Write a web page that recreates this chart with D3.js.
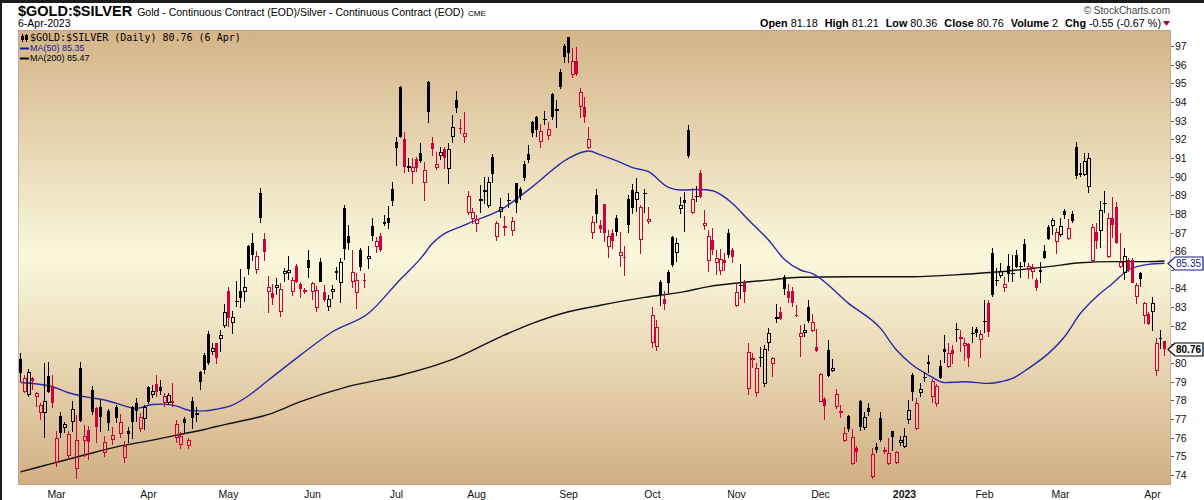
<!DOCTYPE html>
<html><head><meta charset="utf-8">
<script src="https://cdn.jsdelivr.net/npm/d3@7"></script>
<style>body{margin:0;background:#fff}svg{display:block}</style>
</head><body>
<svg id="c" width="1204" height="500"></svg>
<script>
// ---------- DATA ----------
const START_DATE = '2022-02-15', END_DATE = '2023-04-06';
const HOLIDAYS = ['2022-02-21','2022-04-15','2022-05-30','2022-06-20','2022-07-04','2022-09-05',
  '2022-11-24','2022-12-26','2023-01-02','2023-01-16','2023-02-20'];

const opens = [80.20,78.46,78.28,79.18,78.19,77.35,77.35,79.30,78.77,74.62,77.16,76.50,75.01,76.82,74.30,79.71,75.80,76.41,78.55,77.57,
77.62,75.16,77.43,75.87,77.62,76.18,74.89,76.35,77.62,77.87,76.46,76.98,78.70,78.28,78.87,78.70,77.84,77.84,77.96,75.96,
75.60,77.00,75.57,77.96,77.19,79.50,80.43,81.56,80.57,81.06,81.27,82.00,83.86,82.13,83.30,83.86,83.83,86.27,86.42,84.99,
89.10,86.63,83.83,83.74,84.04,82.76,84.76,84.81,83.83,85.22,84.22,83.80,85.52,83.83,82.93,85.40,83.79,83.02,83.83,84.94,
84.27,88.30,86.81,84.36,83.77,86.06,84.45,85.56,87.35,86.24,86.81,87.58,87.76,89.33,91.83,94.78,92.00,90.44,90.26,90.92,
91.24,89.67,95.05,91.78,90.48,91.12,91.48,90.39,92.14,94.10,92.60,92.10,88.06,87.71,87.44,88.71,89.19,88.44,91.03,86.74,
88.08,87.22,88.71,87.10,89.64,89.33,90.67,91.21,92.91,93.17,91.87,93.03,92.19,94.41,93.53,95.59,97.00,97.46,95.45,96.20,
93.71,93.71,91.51,86.96,89.01,87.40,88.53,86.24,86.96,87.76,85.76,85.67,88.80,89.28,88.74,86.60,89.06,87.58,81.06,80.88,
84.33,83.44,84.86,86.74,85.88,88.24,88.74,92.50,88.03,88.92,90.17,87.37,85.49,86.60,85.38,84.95,85.53,86.96,86.06,83.08,
84.11,84.31,78.60,80.16,78.40,80.25,78.90,81.06,79.93,82.34,82.72,84.63,83.88,83.86,82.56,81.38,81.59,82.99,81.74,80.84,
77.93,78.07,80.70,79.59,77.66,77.30,75.84,77.16,74.59,75.46,77.97,76.50,77.57,73.91,75.48,77.07,75.21,74.59,76.36,74.62,
75.70,75.48,76.95,79.36,76.45,78.38,79.20,80.04,78.20,77.81,79.84,80.75,79.77,80.70,81.77,81.27,80.91,81.00,81.58,81.83,
81.24,82.20,83.24,85.88,84.40,84.68,84.01,85.20,84.77,85.79,85.18,86.37,84.99,84.90,84.45,84.99,86.01,87.28,87.35,86.47,
86.87,88.15,86.63,87.97,91.60,90.17,90.08,89.46,85.49,87.01,87.08,88.56,85.67,87.76,88.35,85.17,84.81,85.53,85.53,83.52,
84.81,82.54,82.63,82.76,79.59,81.34,81.18];
const highs = [80.52,79.36,79.66,79.27,78.46,77.84,79.98,80.04,79.36,76.35,77.37,76.85,76.35,77.96,77.21,80.04,76.68,76.64,78.77,77.66,
78.02,76.09,77.52,76.59,77.75,77.25,75.84,76.59,77.71,78.11,77.30,77.75,78.77,78.82,79.36,79.09,78.37,78.37,78.95,76.94,
76.28,77.09,76.01,78.19,77.66,79.59,80.52,81.72,81.06,81.09,81.77,83.17,84.10,82.79,84.40,85.04,84.60,86.33,86.99,86.03,
89.37,86.99,84.67,84.24,84.54,84.27,85.08,85.74,84.63,85.29,84.33,84.04,86.06,84.36,84.13,85.65,84.19,83.65,84.19,85.17,
85.61,88.47,87.40,86.06,84.85,86.15,84.85,86.27,87.76,86.78,86.96,87.94,88.42,89.69,92.10,94.86,92.37,91.01,91.01,91.07,
91.78,90.80,95.12,92.10,91.30,91.60,91.60,91.82,93.30,94.59,93.07,93.44,89.22,88.30,87.94,89.55,89.96,89.96,91.21,87.62,
88.83,87.89,89.10,87.81,89.67,89.46,90.83,91.69,93.00,93.25,92.80,93.51,92.94,94.50,94.10,95.75,97.11,97.50,96.87,96.93,
94.73,94.25,92.64,87.90,89.31,87.67,88.55,87.13,87.17,87.94,87.01,86.29,89.01,89.60,89.90,88.47,89.31,88.35,82.99,82.31,
84.45,83.88,84.99,86.81,86.72,88.89,89.19,92.76,89.37,89.49,90.35,88.21,87.13,87.22,86.06,86.10,85.88,87.17,86.15,84.31,
85.31,84.45,81.06,80.52,80.00,80.84,80.97,81.86,80.34,83.17,83.02,84.72,84.24,84.10,83.11,82.04,82.08,83.38,82.63,81.81,
79.48,78.16,81.24,80.20,78.59,77.75,76.59,77.21,76.45,75.57,78.02,77.39,77.84,75.43,75.73,77.36,75.52,75.96,76.38,75.30,
76.11,76.50,78.02,79.48,78.11,78.91,79.54,80.43,79.13,78.86,80.16,81.50,81.06,80.97,82.13,81.77,81.33,81.06,81.92,81.92,
81.77,83.38,83.38,86.19,85.08,85.35,84.63,85.83,85.79,86.06,85.44,86.65,85.35,85.29,84.54,85.44,86.33,87.40,87.76,87.22,
87.76,88.24,87.71,88.15,91.83,90.74,91.25,91.28,87.46,87.49,88.71,89.24,88.03,88.88,88.65,86.96,86.15,85.61,85.61,84.27,
84.90,83.29,82.76,83.52,81.32,81.77,81.21];
const lows = [79.00,78.37,78.19,78.55,77.66,76.94,76.01,78.37,77.57,74.41,75.96,76.26,74.80,76.28,73.76,76.85,74.98,74.83,77.21,75.73,
76.32,74.98,76.35,75.60,76.80,75.96,74.66,75.73,75.91,76.85,76.28,76.41,77.80,78.11,78.19,78.28,77.66,77.75,77.66,75.73,
75.42,76.26,75.42,76.46,76.85,78.55,79.41,79.89,80.43,79.95,80.61,81.90,81.95,81.54,82.99,82.97,83.29,84.72,85.49,84.76,
87.53,85.49,82.70,83.11,83.65,82.45,84.36,84.45,83.61,84.27,83.47,83.70,84.58,83.38,82.76,84.33,83.29,82.81,83.42,84.45,
83.20,85.52,86.06,84.01,82.88,84.95,84.01,85.06,86.56,85.92,85.97,87.37,87.19,88.44,90.58,92.05,90.21,90.26,89.58,90.26,
90.71,88.71,92.89,91.10,90.35,90.89,90.41,89.58,91.82,93.39,92.26,91.78,87.94,87.44,87.04,88.06,88.51,88.33,89.64,86.54,
87.76,86.81,88.30,86.83,88.06,88.74,89.76,90.74,92.14,92.10,91.51,92.76,91.96,93.03,92.62,94.68,96.11,96.07,95.30,95.41,
93.12,92.85,91.48,86.63,87.49,86.96,86.51,85.65,86.10,86.81,85.17,84.69,86.96,87.97,88.12,85.83,88.03,87.46,80.82,80.66,
83.08,82.85,83.70,85.17,85.44,87.97,87.01,90.98,87.99,88.65,88.83,87.13,84.90,85.79,84.72,84.72,84.95,85.62,85.38,82.99,
83.44,83.20,78.30,79.72,78.20,79.81,78.70,80.66,79.27,82.17,82.31,83.65,83.20,83.02,82.45,80.34,81.38,82.17,81.68,80.61,
77.89,76.95,79.24,79.54,77.54,77.04,75.75,76.32,74.53,74.71,76.38,76.41,77.18,73.78,75.16,75.79,75.11,74.53,75.30,74.57,
75.55,75.43,76.73,77.98,76.41,78.20,79.00,79.45,77.88,77.66,79.13,80.02,79.72,79.95,81.15,80.61,80.13,79.77,81.06,81.41,
80.25,81.59,81.41,83.56,84.15,84.54,83.83,84.33,84.33,85.08,84.58,85.17,84.49,84.49,83.88,84.27,85.56,86.60,86.87,85.83,
86.78,87.71,86.60,87.49,89.87,89.96,90.03,89.14,85.44,86.10,86.19,88.03,85.61,86.69,86.37,85.08,84.45,84.90,84.27,83.15,
84.10,82.09,82.04,81.74,79.31,80.78,80.36];
const closes = [79.45,79.18,79.54,79.05,78.37,77.75,77.96,78.46,77.87,76.01,76.23,76.73,76.19,77.52,75.87,76.91,76.09,75.78,77.39,76.59,
77.12,75.75,76.80,76.14,77.03,76.82,75.57,76.18,76.85,77.44,77.09,77.62,77.93,78.52,78.46,78.52,78.25,78.28,77.87,76.73,
76.10,76.77,75.87,77.03,77.30,79.00,79.63,79.98,80.79,80.25,81.50,82.72,82.40,82.49,83.32,83.47,84.06,85.04,85.79,85.72,
87.76,85.97,84.06,83.51,84.19,83.97,84.94,84.99,84.45,84.33,83.97,83.94,85.11,84.27,83.92,84.36,83.38,83.42,83.95,84.81,
85.40,86.10,86.45,84.86,84.45,85.17,84.40,85.74,86.83,86.54,86.06,87.44,87.53,88.71,91.51,92.10,90.53,90.57,90.49,90.44,
90.85,90.35,93.48,91.48,90.66,91.30,90.98,91.48,92.67,93.69,92.55,92.32,88.96,88.12,87.71,88.78,89.28,89.69,90.14,87.53,
88.39,87.35,88.74,87.62,88.60,88.96,89.94,90.89,92.35,92.50,92.45,93.07,92.53,93.21,93.60,94.82,96.43,96.64,96.21,95.50,
94.52,93.17,92.00,87.55,87.99,87.19,86.96,86.81,86.56,87.01,85.94,85.62,87.40,88.30,89.15,88.35,89.10,87.72,82.58,81.91,
83.65,83.17,84.27,85.26,86.42,88.47,88.56,91.12,88.78,88.96,88.92,87.49,86.81,86.06,85.62,85.56,85.35,85.79,85.70,83.79,
84.19,83.83,80.58,80.29,79.72,80.31,80.74,81.59,80.29,82.45,82.36,83.95,83.47,83.24,82.52,81.59,81.77,82.27,82.18,80.66,
79.41,77.72,79.31,79.72,78.34,77.43,76.23,76.46,76.02,75.25,76.59,77.13,77.39,75.11,75.34,75.87,75.34,75.16,76.05,75.21,
75.87,76.09,77.48,78.47,77.84,78.59,79.24,79.93,79.04,78.79,79.22,80.58,80.52,80.47,81.81,81.38,81.06,80.25,81.61,81.63,
81.54,82.24,81.65,83.65,84.43,84.93,84.22,84.76,84.81,85.17,85.20,85.44,85.20,85.17,84.04,84.86,85.65,86.65,87.67,87.04,
87.37,87.94,87.22,87.63,90.03,90.08,90.85,90.98,87.31,86.56,88.21,88.60,87.76,87.40,86.46,85.44,85.74,84.99,84.31,84.18,
84.49,83.20,82.09,83.20,81.09,81.31,80.76];

// moving averages (bar index, value)
const ma50Idx = [0,8,12,17,21,24,29,33,36,39,43,46,49,53,57,62,70,78,87,95,100,103,112,120,128,137,142,145,150,153,157,162,165,170,173,178,182,187,191,195,198,207,215,219,223,227,231,236,242,245,248,252,257,261,265,269,273,277,282,286];
const ma50Val = [78.96,78.73,78.41,78.16,78.02,77.84,77.57,77.78,77.80,77.69,77.44,77.44,77.53,77.75,78.25,79.09,80.43,81.68,82.67,84.50,85.60,86.42,87.49,88.21,89.46,90.98,91.37,91.16,90.76,90.48,90.26,89.42,89.28,89.31,89.24,88.56,87.67,86.60,85.55,84.99,84.80,83.20,81.86,80.70,79.90,79.36,78.95,79.00,78.91,79.00,79.18,79.72,80.52,81.41,82.67,83.56,84.27,84.99,85.29,85.35];
const ma200Idx = [0,8,16,24,33,39,46,49,53,62,70,82,95,108,120,128,137,145,156,166,172,180,187,195,207,223,236,244,257,265,273,282,286];
const ma200Val = [74.17,74.62,75.07,75.51,75.87,76.14,76.44,76.60,76.79,77.25,77.93,78.75,79.35,80.20,81.41,82.13,82.75,83.10,83.52,83.83,84.10,84.31,84.45,84.60,84.63,84.63,84.76,84.88,85.17,85.38,85.44,85.44,85.47];

const yTickLabels = [74,75,76,77,78,79,80,81,82,83,84,85,86,87,88,89,90,91,92,93,94,95,96,97];
const monthTickLabels = ['Mar','Apr','May','Jun','Jul','Aug','Sep','Oct','Nov','Dec','2023','Feb','Mar','Apr'];
const headerValues = [['Open','81.18'],['High','81.21'],['Low','80.36'],['Close','80.76'],['Volume','2'],['Chg','-0.55 (-0.67 %)']];

// ---------- BUILD ----------
function tradingDays(start, end, hol) {
  const out = [], h = new Set(hol);
  const e = new Date(end + 'T00:00:00Z');
  for (let d = new Date(start + 'T00:00:00Z'); d <= e; d.setUTCDate(d.getUTCDate() + 1)) {
    const w = d.getUTCDay(), s = d.toISOString().slice(0, 10);
    if (w > 0 && w < 6 && !h.has(s)) out.push(s);
  }
  return out;
}
const dates = tradingDays(START_DATE, END_DATE, HOLIDAYS);
const bars = dates.map((d, i) => ({d, i, o: opens[i], h: highs[i], l: lows[i], c: closes[i]}));

const PL = 18, PT = 30, PR = 1171, PB = 485;
const svg = d3.select('#c');
const x = d3.scaleBand().domain(dates).range([PL, PL + 4 * dates.length]);
const y = d3.scaleLinear().domain([74, 97]).range([475, 46]);
const cx = d => Math.round(x(d) + x.bandwidth() / 2);
const FONT = 'Liberation Sans, Arial, sans-serif';

svg.append('rect').attr('width', 1204).attr('height', 500).attr('fill', '#fff');
svg.append('rect').attr('x', 0).attr('y', 0).attr('width', 1204).attr('height', 3).attr('fill', '#1c1c1c');
svg.append('rect').attr('x', 0).attr('y', 0).attr('width', 2).attr('height', 500).attr('fill', '#1c1c1c');

const defs = svg.append('defs');
const g = defs.append('linearGradient').attr('id', 'bg').attr('x1', 0).attr('y1', 0).attr('x2', 0).attr('y2', 1);
g.append('stop').attr('offset', '0%').attr('stop-color', '#d4b488');
g.append('stop').attr('offset', '50%').attr('stop-color', '#fbf8dc');
g.append('stop').attr('offset', '100%').attr('stop-color', '#d2af83');
defs.append('clipPath').attr('id', 'clip').append('rect').attr('x', PL).attr('y', PT).attr('width', PR - PL).attr('height', PB - PT);

svg.append('rect').attr('x', PL).attr('y', PT).attr('width', PR - PL).attr('height', PB - PT).attr('fill', 'url(#bg)');
const plot = svg.append('g').attr('clip-path', 'url(#clip)');

// MA lines
const lineGen = d3.line().x(p => cx(dates[p[0]]) + 0.5).y(p => y(p[1])).curve(d3.curveMonotoneX);
plot.append('path').datum(ma200Idx.map((k, j) => [k, ma200Val[j]]))
  .attr('d', lineGen).attr('fill', 'none').attr('stroke', '#111').attr('stroke-width', 1.4);
plot.append('path').datum(ma50Idx.map((k, j) => [k, ma50Val[j]]))
  .attr('d', lineGen).attr('fill', 'none').attr('stroke', '#2a2aa8').attr('stroke-width', 1.4);

// candles
const RED = '#d2003a', BLK = '#000';
const cg = plot.append('g');
bars.forEach(b => {
  const col = (b.i === 0 || b.c >= closes[b.i - 1]) ? BLK : RED;
  const hollow = b.c > b.o;
  const c = cx(b.d);
  const top = Math.round(y(Math.max(b.o, b.c))), bot = Math.round(y(Math.min(b.o, b.c)));
  const yh = Math.round(y(b.h)), yl = Math.round(y(b.l));
  if (hollow && bot - top >= 2) {
    cg.append('line').attr('x1', c + 0.5).attr('x2', c + 0.5).attr('y1', yh).attr('y2', top).attr('stroke', col);
    cg.append('line').attr('x1', c + 0.5).attr('x2', c + 0.5).attr('y1', bot).attr('y2', yl).attr('stroke', col);
    cg.append('rect').attr('x', c - 0.5).attr('y', top + 0.5).attr('width', 3).attr('height', bot - top - 1)
      .attr('fill', 'none').attr('stroke', col).attr('stroke-width', 1);
  } else {
    cg.append('line').attr('x1', c + 0.5).attr('x2', c + 0.5).attr('y1', yh).attr('y2', yl).attr('stroke', col);
    cg.append('rect').attr('x', c - 1).attr('y', top).attr('width', 3 + (hollow ? 1 : 0)).attr('height', Math.max(1, bot - top))
      .attr('fill', col);
  }
});

// border (dotted)
svg.append('rect').attr('x', PL + 0.5).attr('y', PT + 0.5).attr('width', PR - PL - 1).attr('height', PB - PT - 1)
  .attr('fill', 'none').attr('stroke', '#a88f8f').attr('stroke-dasharray', '1,1');

// price boxes (values) -- tick labels hidden behind them are skipped
const boxes = [
  {v: ma50Val[ma50Val.length - 1], color: '#1a1a8c', bold: false},
  {v: closes[closes.length - 1], color: '#000', bold: true}
];

// y axis
const ya = svg.append('g').attr('font-family', FONT).attr('font-size', 10.5).attr('fill', '#111');
yTickLabels.forEach(v => {
  const yy = Math.round(y(v)) + 0.5;
  ya.append('line').attr('x1', PR).attr('x2', PR + 3).attr('y1', yy).attr('y2', yy).attr('stroke', '#555');
  const hidden = boxes.some(b => Math.abs(y(b.v) - y(v)) < 10);
  if (!hidden) ya.append('text').attr('x', PR + 4).attr('y', yy).attr('dy', '0.35em').text(v);
});

// x axis month labels at first trading day of each month
const firsts = [];
dates.forEach((d, i) => { if (i > 0 && d.slice(0, 7) !== dates[i - 1].slice(0, 7)) firsts.push(d); });
const xa = svg.append('g').attr('font-family', FONT).attr('font-size', 10.5).attr('fill', '#111').attr('text-anchor', 'middle');
firsts.forEach((d, k) => {
  xa.append('text').attr('x', cx(d) + 0.5).attr('y', 498).text(monthTickLabels[k])
    .attr('font-weight', monthTickLabels[k] === '2023' ? 'bold' : null);
});

boxes.forEach(b => {
  const yy = Math.round(y(b.v)) + 0.5;
  svg.append('path').attr('d', `M${PR - 3},${yy} L${PR + 4},${yy - 6.5} L1203,${yy - 6.5} L1203,${yy + 6.5} L${PR + 4},${yy + 6.5} Z`)
    .attr('fill', '#fff').attr('stroke', b.color).attr('stroke-width', 1.2);
  svg.append('text').attr('x', PR + 5).attr('y', yy).attr('dy', '0.36em').attr('fill', b.color)
    .attr('font-family', FONT).attr('font-size', 10).attr('font-weight', b.bold ? 'bold' : null).text(b.v.toFixed(2));
});

// header
const hd = svg.append('g').attr('font-family', FONT).attr('fill', '#000');
const t1 = hd.append('text').attr('x', 18).attr('y', 16);
t1.append('tspan').attr('font-size', 14.5).attr('font-weight', 'bold').text('$GOLD:$SILVER');
t1.append('tspan').attr('font-size', 10.5).attr('dx', 5).text('Gold - Continuous Contract (EOD)/Silver - Continuous Contract (EOD)');
t1.append('tspan').attr('font-size', 8).attr('dx', 4).text('CME');
hd.append('text').attr('x', 18).attr('y', 27).attr('font-size', 10.5).text('6-Apr-2023');
hd.append('text').attr('x', 1170).attr('y', 14).attr('font-size', 10).attr('fill', '#444').attr('text-anchor', 'end').text('© StockCharts.com');
const t2 = hd.append('text').attr('x', 1161).attr('y', 27).attr('font-size', 10.8).attr('text-anchor', 'end');
headerValues.forEach((p, k) => {
  t2.append('tspan').attr('font-weight', 'bold').attr('dx', k ? 7 : 0).text(p[0]);
  t2.append('tspan').attr('dx', 3).text(p[1]);
});
hd.append('path').attr('d', 'M1163,21 L1170,21 L1166.5,26 Z').attr('fill', '#b00030');

// legend inside plot
const last = bars[bars.length - 1];
const lg = svg.append('g');
lg.append('line').attr('x1', 22.5).attr('x2', 22.5).attr('y1', 34).attr('y2', 42).attr('stroke', '#000');
lg.append('rect').attr('x', 21).attr('y', 36).attr('width', 3).attr('height', 4).attr('fill', '#000');
lg.append('line').attr('x1', 26.5).attr('x2', 26.5).attr('y1', 34).attr('y2', 42).attr('stroke', '#000');
lg.append('rect').attr('x', 25.5).attr('y', 35.5).attr('width', 2).attr('height', 4).attr('fill', 'none').attr('stroke', '#000');
lg.append('text').attr('x', 30).attr('y', 41).attr('font-family', 'DejaVu Sans Mono, monospace').attr('font-size', 10)
  .text(`$GOLD:$SILVER (Daily) ${last.c.toFixed(2)} (6 Apr)`);
lg.append('line').attr('x1', 20).attr('x2', 29).attr('y1', 48.5).attr('y2', 48.5).attr('stroke', '#1a1a8c').attr('stroke-width', 2);
lg.append('text').attr('x', 30).attr('y', 51).attr('font-family', FONT).attr('font-size', 9).attr('fill', '#1a1a8c')
  .text(`MA(50) ${ma50Val[ma50Val.length - 1].toFixed(2)}`);
lg.append('line').attr('x1', 20).attr('x2', 29).attr('y1', 58.5).attr('y2', 58.5).attr('stroke', '#000').attr('stroke-width', 2);
lg.append('text').attr('x', 30).attr('y', 61).attr('font-family', FONT).attr('font-size', 9).attr('fill', '#000')
  .text(`MA(200) ${ma200Val[ma200Val.length - 1].toFixed(2)}`);
</script>
</body></html>
